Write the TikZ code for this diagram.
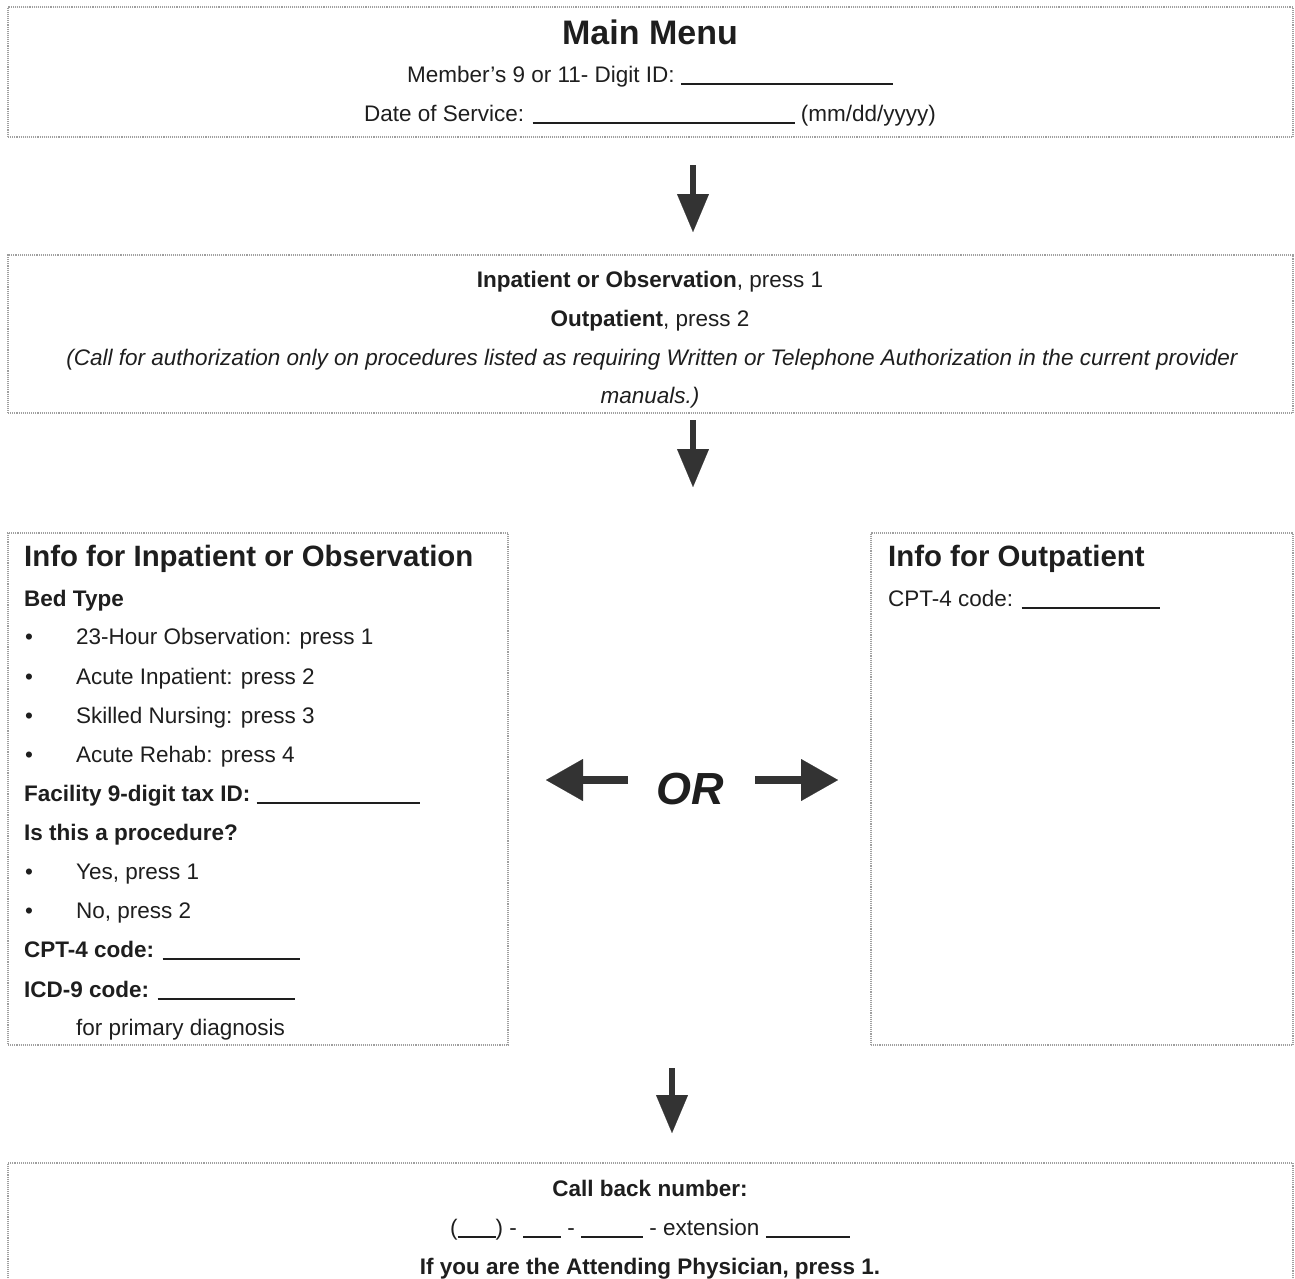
\documentclass[tikz,border=0pt]{standalone}
\usepackage{fontspec}
\setmainfont{Liberation Sans}
\usetikzlibrary{arrows.meta}
\newcommand{\blankln}[1]{\rule[-3pt]{#1pt}{1.6pt}}
\definecolor{ink}{HTML}{1E1E1E}
\definecolor{arr}{HTML}{333333}
\begin{document}
\begin{tikzpicture}[x=1pt,y=-1pt,
  box/.style={draw=gray!75, densely dotted, line width=1.1pt, inner sep=0pt, outer sep=0pt},
  txt/.style={font=\fontsize{22.5}{26}\selectfont, inner sep=0pt, text=ink, anchor=base},
  txtl/.style={txt, anchor=base west},
  bigtitle/.style={font=\bfseries\fontsize{34}{40}\selectfont, inner sep=0pt, text=ink, anchor=base},
  boxtitle/.style={font=\bfseries\fontsize{29.4}{34}\selectfont, inner sep=0pt, text=ink, anchor=base west},
  bul/.style={txtl},
  downarr/.style={draw=arr, line width=5.5pt, -{Triangle[length=38pt,width=32pt,line width=0.1pt]}},
  sidearr/.style={draw=arr, line width=8pt, -{Triangle[length=37pt,width=42pt,line width=0.1pt]}}
]
\useasboundingbox (0,0) rectangle (1295,1278);
\clip (0,0) rectangle (1295,1278);

% boxes
\node[box, minimum width=1285pt, minimum height=130pt] (mainbox) at (650.5,72) {};
\node[box, minimum width=1285pt, minimum height=158pt] (typebox) at (650.5,334) {};
\node[box, minimum width=500pt, minimum height=512pt] (inbox) at (258,789) {};
\node[box, minimum width=422pt, minimum height=512pt] (outbox) at (1082,789) {};
\node[box, minimum width=1285pt, minimum height=157pt] (callbox) at (650.5,1241.5) {};

% main menu
\node[bigtitle] (mm) at (650,44) {Main Menu};
\node[txt] (mid) at (650,82) {Member's 9 or 11- Digit ID: \blankln{212}};
\node[txt] (dos) at (650,121) {Date of Service: \blankln{262} (mm/dd/yyyy)};

% type selection
\node[txt] (t1) at (650,287) {\textbf{Inpatient or Observation}, press 1};
\node[txt] (t2) at (650,326) {\textbf{Outpatient}, press 2};
\node[txt] (t3) at (652,365) {\itshape (Call for authorization only on procedures listed as requiring Written or Telephone Authorization in the current provider};
\node[txt] (t4) at (650,403) {\itshape manuals.)};

% inpatient box
\node[boxtitle] (it) at (24,566) {Info for Inpatient or Observation};
\node[txtl] (bed) at (24,606) {\textbf{Bed Type}};
\node[bul] (b1) at (25,644) {\textbullet};
\node[txtl] (o1) at (76,644) {23-Hour Observation: press 1};
\node[bul] (b2) at (25,684) {\textbullet};
\node[txtl] (o2) at (76,684) {Acute Inpatient: press 2};
\node[bul] (b3) at (25,723) {\textbullet};
\node[txtl] (o3) at (76,723) {Skilled Nursing: press 3};
\node[bul] (b4) at (25,762) {\textbullet};
\node[txtl] (o4) at (76,762) {Acute Rehab: press 4};
\node[txtl] (fac) at (24,801) {\textbf{Facility 9-digit tax ID:} \blankln{163}};
\node[txtl] (proc) at (24,840) {\textbf{Is this a procedure?}};
\node[bul] (b5) at (25,879) {\textbullet};
\node[txtl] (y1) at (76,879) {Yes, press 1};
\node[bul] (b6) at (25,918) {\textbullet};
\node[txtl] (n2) at (76,918) {No, press 2};
\node[txtl] (cpt) at (24,957) {\textbf{CPT-4 code:} \blankln{137}};
\node[txtl] (icd) at (24,997) {\textbf{ICD-9 code:} \blankln{137}};
\node[txtl] (prim) at (76,1035) {for primary diagnosis};

% outpatient box
\node[boxtitle] (ot) at (888,566) {Info for Outpatient};
\node[txtl] (ocpt) at (888,606) {CPT-4 code: \blankln{138}};

% OR
\node[font=\bfseries\itshape\fontsize{45}{50}\selectfont, inner sep=0pt, text=ink, anchor=base] (or) at (690,804) {OR};
\coordinate (orl) at (628,780);
\coordinate (orr) at (755,780);
\draw[sidearr, shorten >=38pt] (orl) -- (inbox.east |- orl);
\draw[sidearr, shorten >=33pt] (orr) -- (outbox.west |- orr);

% call back box
\node[txt] (cb) at (650,1196) {\textbf{Call back number:}};
\node[txt] (ph) at (650,1235) {(\blankln{38}) - \blankln{38} - \blankln{62} - extension \blankln{84}};
\node[txt] (ap) at (650,1274) {\textbf{If you are the Attending Physician, press 1.}};

% down arrows
\coordinate (c1) at (693,0);
\coordinate (split) at (693,533);
\coordinate (merge) at (672,1045);
\draw[downarr, shorten <=28pt, shorten >=23pt] (mainbox.south -| c1) -- (typebox.north -| c1);
\draw[downarr, shorten <=7pt, shorten >=46pt] (typebox.south -| split) -- (split);
\draw[downarr, shorten <=23pt, shorten >=30pt] (merge) -- (callbox.north -| merge);
\end{tikzpicture}
\end{document}
